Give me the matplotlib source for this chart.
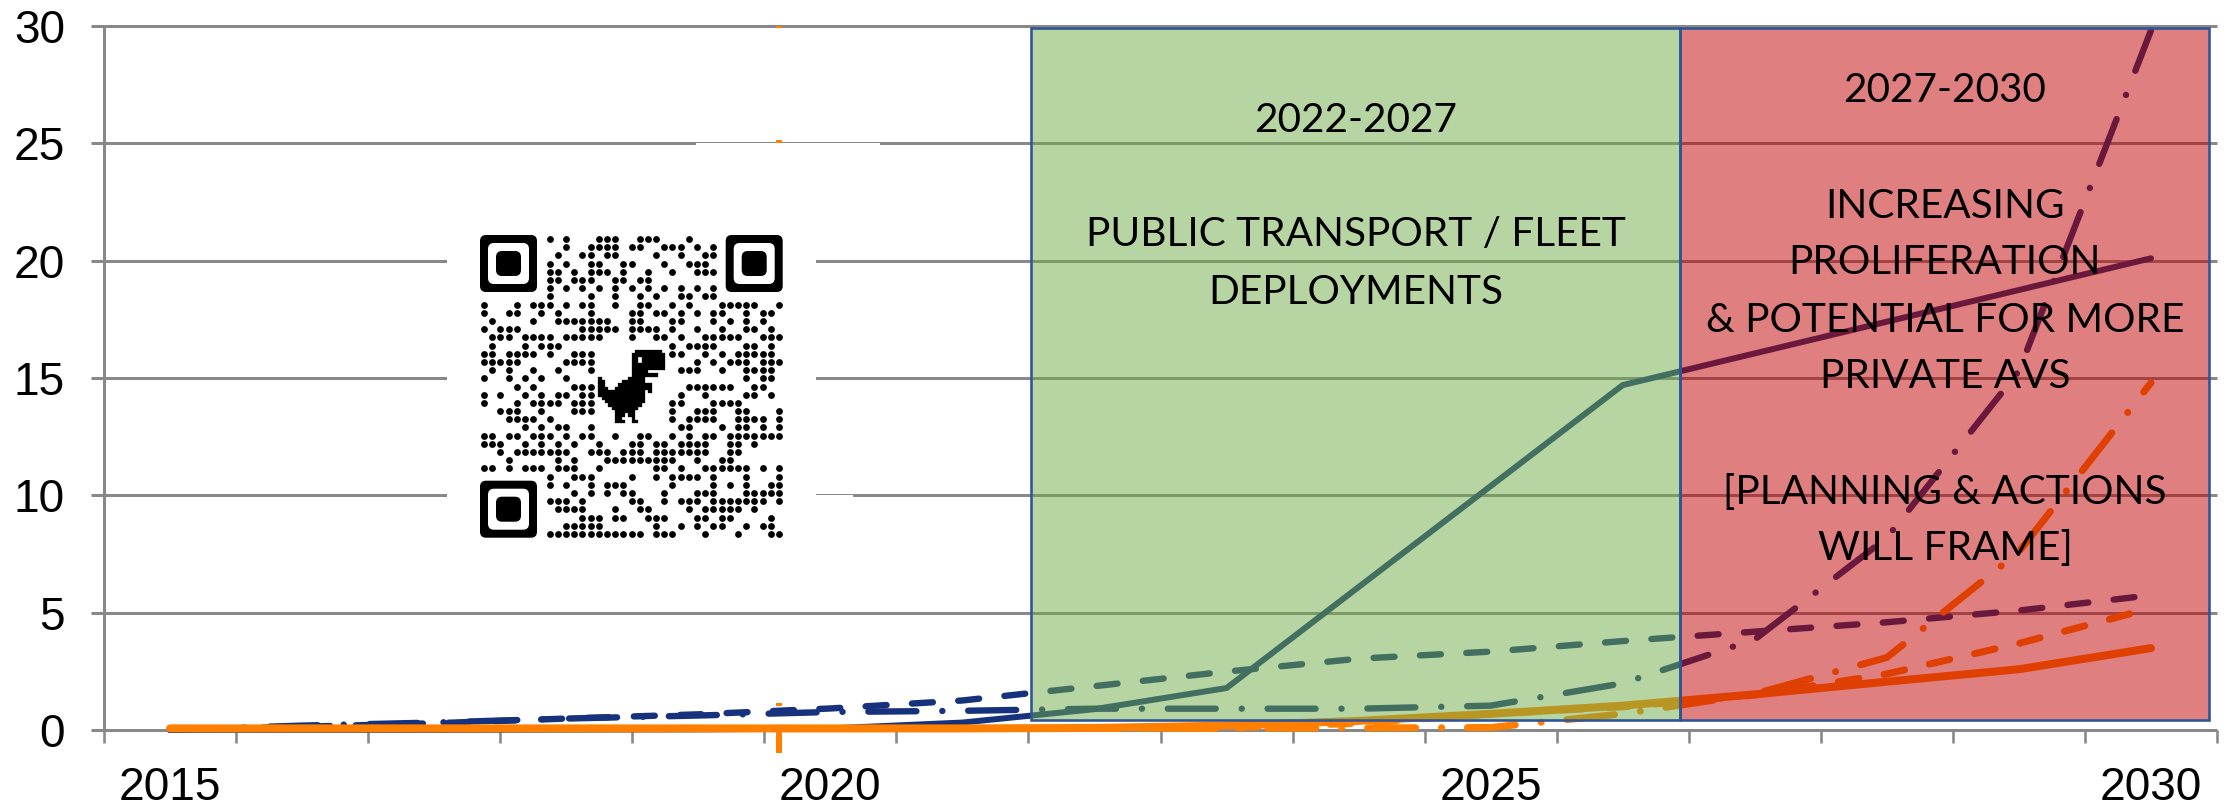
import matplotlib
matplotlib.use("Agg")
import matplotlib.pyplot as plt
from matplotlib.patches import Rectangle, FancyBboxPatch
from matplotlib.transforms import Affine2D

plt.rcParams['lines.scale_dashes'] = False

W, H = 2229, 809
DPI = 100
PT = 72 / DPI

years = list(range(2015, 2031))
navy_solid = [0.02, 0.02, 0.02, 0.03, 0.04, 0.08, 0.33, 0.9, 1.8, 6.1, 10.4, 14.7, 16.05, 17.4, 18.75, 20.1]
navy_dashed = [0.02, 0.15, 0.3, 0.5, 0.68, 0.93, 1.27, 1.88, 2.5, 3.05, 3.35, 3.8, 4.2, 4.6, 5.1, 5.75]
navy_dashdot = [0.02, 0.2, 0.33, 0.5, 0.63, 0.78, 0.83, 0.92, 0.92, 0.92, 1.05, 2.0, 3.87, 8.2, 15.3, 29.8]
orange_solid = [0.08, 0.08, 0.08, 0.08, 0.08, 0.08, 0.08, 0.1, 0.2, 0.4, 0.7, 1.05, 1.53, 2.07, 2.6, 3.5]
orange_dashed = [0.08, 0.08, 0.08, 0.08, 0.08, 0.08, 0.08, 0.08, 0.1, 0.3, 0.7, 1.0, 1.5, 2.4, 3.7, 5.2]
orange_dashdot = [0.08, 0.08, 0.08, 0.08, 0.08, 0.08, 0.08, 0.08, 0.08, 0.1, 0.12, 0.7, 1.55, 3.1, 7.6, 14.8]
y_ticks = [0, 5, 10, 15, 20, 25, 30]
x_labels = [2015, 2020, 2025, 2030]
stub_x = 2019.61
stub_ranges = [(-0.95, 0.0), (1.02, 1.15), (25.0, 25.15), (29.92, 29.98)]

green_label = ["2022-2027", "PUBLIC TRANSPORT / FLEET", "DEPLOYMENTS"]
red_label = ["2027-2030", "INCREASING", "PROLIFERATION", "& POTENTIAL FOR MORE",
             "PRIVATE AVS", "[PLANNING & ACTIONS", "WILL FRAME]"]

qr_rows = [
 [8,10,14,15,16,19,20,21,25],
 [10,13,14,15,16,18,19,22,23,24,26,28],
 [9,12,13,15,16,21,24,27,28],
 [8,10,13,14,17,18,22,25,26,27],
 [8,9,11,13,14,15,17,20,23,26,27,28],
 [8,9,11,12,13,16,17,19,20],
 [8,10,12,14,16,18,20,22,24,26,28],
 [8,13,16,19,21,24,25,27,28],
 [0,4,6,7,8,10,12,13,16,19,20,23,25,29,30,31,32,33,36],
 [0,3,4,7,9,13,18,19,21,22,24,26,28,29,32,34,35],
 [1,6,9,10,11,12,13,14,15,18,19,23,24,28,30,32,34],
 [0,2,3,4,12,13,14,15,16,18,19,20,21,23,26,29,32,33,35],
 [1,2,3,5,6,7,8,10,11,12,13,14,18,21,22,24,27,28,29,30,31,34,35,36],
 [1,5,7,8,9,23,25,26,27,28,32,33,35],
 [0,1,3,4,5,6,8,11,12,13,23,24,27,29,31,32,33,34,35],
 [0,1,2,3,4,10,11,12,13,26,28,30,31,32,34,35,36],
 [1,3,6,9,13,24,25,26,29,32,33,34,35],
 [0,3,5,7,10,32,34,35],
 [4,6,11,12,13,25,26,27,28,29,30,33,34],
 [0,2,5,7,9,10,12,13,24,27,32,33,35],
 [0,4,6,7,8,9,11,12,13,23,24,28,29,30,31],
 [2,3,4,7,11,12,13,23,26,27,28,31,32,36],
 [3,4,5,6,8,23,25,26,27,28,31,32,33,34,36],
 [5,7,9,10,13,24,25,29,31,32,34,36],
 [0,1,3,4,6,7,8,10,12,13,16,19,20,23,25,27,28,30,31,32,33,34,35,36],
 [0,1,2,5,7,9,11,14,18,19,21,22,24,25,26,27,30,31,33],
 [2,4,5,6,7,8,9,10,13,14,15,17,18,19,21,22,23,24,25,26,27,30,31],
 [3,9,11,15,16,17,18,19,20,21,22,23,26,29,30],
 [0,1,3,5,6,7,9,10,11,14,21,22,24,27,28,29,30,31,32,34,36],
 [8,11,12,13,18,21,23,24,25,26,28,32,36],
 [8,10,13,15,16,17,23,28,30,32,35,36],
 [11,13,15,17,18,22,26,27,28,32,33,34,35,36],
 [8,9,10,12,18,19,22,24,25,26,28,29,30,31,32,33,34,36],
 [9,10,11,12,16,19,20,25,27,28,29,30,31,33],
 [12,13,14,16,17,20,21,22,26,27,29,30,35],
 [10,11,12,13,14,21,24,26,28,29,32,34,35],
 [8,9,10,11,12,13,14,15,16,17,18,19,21,22,23,27,31,35,36],
]
dino = [
 "...........########.",
 "..........##########",
 "..........##.#######",
 "..........##.#######",
 "..........##########",
 "..........##########",
 "..........#####.....",
 "..........########..",
 "#........#####......",
 "##.....#######......",
 "##....##########....",
 "###..###########....",
 "##############.#....",
 "##############......",
 ".#############......",
 "..############......",
 "...##########.......",
 "....########........",
 ".....######.........",
 ".....###.##.........",
 ".....##...#.........",
 ".....###..##........",
]

NAVY, ORANGE, GRID = '#17327C', '#FF7F00', '#888888'
px = Affine2D().scale(1, -1).translate(0, H)

fig = plt.figure(figsize=(W / DPI, H / DPI), dpi=DPI)
L, R, T, B = 104, 2217, 25.8, 730.3
ax = fig.add_axes([L / W, 1 - B / H, (R - L) / W, (B - T) / H])
ax.set_xlim(2014.5, 2030.5)
ax.set_ylim(0, 30)
ax.patch.set_alpha(0)
for s in ('top', 'right', 'bottom'):
    ax.spines[s].set_visible(False)
ax.spines['left'].set_color(GRID)
ax.spines['left'].set_linewidth(3 * PT)
ax.spines['left'].set_bounds(0, 30)

ax.set_yticks(y_ticks)
ax.set_xticks(x_labels)
ax.set_xticklabels([str(v) for v in x_labels])
ax.set_xticks([y - 0.5 for y in years] + [2030.5], minor=True)
ax.tick_params(axis='y', length=13 * PT, width=3 * PT, color=GRID, pad=26 * PT)
ax.tick_params(axis='x', which='major', length=0, pad=36 * PT)
ax.tick_params(axis='x', which='minor', length=12.5 * PT, width=2.6 * PT, color=GRID)
for lab in ax.get_xticklabels() + ax.get_yticklabels():
    lab.set_fontfamily('Liberation Sans')
    lab.set_fontsize(46 * PT)
    lab.set_color('black')

ax.hlines(y_ticks, 2014.5, 2030.5, color=GRID, lw=3 * PT, zorder=1, clip_on=False)


def px_rect(x0, y0, x1, y1, z, **kw):
    r = Rectangle((x0, y0), x1 - x0, y1 - y0, transform=px, zorder=z, clip_on=False, **kw)
    ax.add_patch(r)
    return r


# white cover left over behind the QR code
px_rect(447, 212, 816, 540, 1.5, fc='white', ec='none')
px_rect(696, 142.6, 880, 147, 1.5, fc='white', ec='none')
px_rect(816, 495.4, 853, 499, 1.5, fc='white', ec='none')

for lo, hi in stub_ranges:
    ax.plot([stub_x, stub_x], [lo, hi], color=ORANGE, lw=6 * PT, solid_capstyle='butt',
            clip_on=False, zorder=2)

DASHED = (0, (21 * PT, 25.4 * PT))
DASHDOT = (0, (48 * PT, 25.9 * PT, 0.1 * PT, 25.8 * PT))


def series(vals, color, width, ls):
    ln, = ax.plot(years, vals, color=color, lw=width * PT, ls=ls, zorder=3, clip_on=False,
                  solid_capstyle='round', solid_joinstyle='miter')
    ln.set_dash_capstyle('round')
    ln.set_dash_joinstyle('miter')


series(navy_solid, NAVY, 6, '-')
series(navy_dashed, NAVY, 6.4, DASHED)
series(navy_dashdot, NAVY, 6.4, DASHDOT)
series(orange_dashdot, ORANGE, 7, DASHDOT)
series(orange_dashed, ORANGE, 7, DASHED)
series(orange_solid, ORANGE, 8, '-')

# scenario boxes lie over the lines and tint them
px_rect(1031, 28, 1680, 720, 4, fc='#70AD47', ec='none', alpha=0.5)
px_rect(1680, 28, 2209, 720, 4, fc='#C00000', ec='none', alpha=0.5)
px_rect(1031, 28, 1680, 720, 5, fc='none', ec='#2F5597', lw=2.6 * PT)
px_rect(1680, 28, 2209, 720, 5, fc='none', ec='#2F5597', lw=2.6 * PT)


def label(x, y, s):
    ax.text(x, y, s, transform=px, ha='center', va='center', fontsize=40.5 * PT,
            family='Lato', color='black', zorder=6, clip_on=False)


for yy, s in zip([120, 235, 292], green_label):
    label(1356, yy, s)
for yy, s in zip([91, 206, 263, 321, 377, 493, 549], red_label):
    label(1945, yy, s)

# QR code
QX, QY, M = 480, 235, 8.19
xs, ys = [], []
for j, row in enumerate(qr_rows):
    for i in row:
        xs.append(QX + (i + 0.5) * M)
        ys.append(QY + (j + 0.5) * M)
ax.scatter(xs, ys, s=(6.8 * PT) ** 2, c='black', linewidths=0, transform=px, zorder=7, clip_on=False)


def rrect(x, y, size, rad, color):
    ax.add_patch(FancyBboxPatch((x + rad, y + rad), size - 2 * rad, size - 2 * rad,
                                boxstyle=f"round,pad={rad},rounding_size={rad}", fc=color, ec='none',
                                transform=px, zorder=7.2, clip_on=False))


for cx, cy in [(0, 0), (30, 0), (0, 30)]:
    x0, y0 = QX + cx * M, QY + cy * M
    rrect(x0, y0, 57, 6, 'black')
    rrect(x0 + 8, y0 + 8, 41, 6, 'white')
    rrect(x0 + 16, y0 + 16, 25, 6, 'black')

DX, DY, C = 598.3, 350, 3.33
for r, row in enumerate(dino):
    for c, ch in enumerate(row):
        if ch == '#':
            px_rect(DX + c * C, DY + r * C, DX + (c + 1) * C, DY + (r + 1) * C, 7.3,
                    fc='black', ec='black', lw=0.2)

fig.savefig('out.png', dpi=DPI, facecolor='white')
